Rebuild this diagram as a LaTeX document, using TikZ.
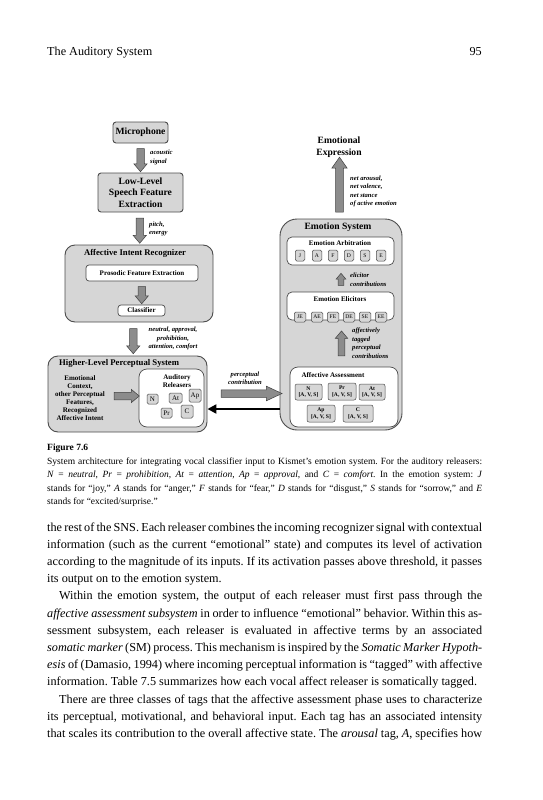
\documentclass[tikz,border=0pt]{standalone}
\usepackage{fontspec}
\setmainfont{Liberation Serif}
\usetikzlibrary{shapes.arrows,calc,arrows.meta}
\frenchspacing
\newcommand\dgTitle{\fontsize{9.6}{11.6}\selectfont\bfseries}
\newcommand\dgTitleS{\fontsize{8.7}{10.5}\selectfont\bfseries}
\newcommand\dgSub{\fontsize{7}{8}\selectfont\bfseries}
\newcommand\dgLbl{\fontsize{6.6}{8.4}\selectfont\bfseries\itshape}
\newcommand\dgTag{\fontsize{5.6}{6.6}\selectfont\bfseries}
\newcommand\bodyf{\fontsize{12.2}{17.2}\selectfont}
\newcommand\capf{\fontsize{9.5}{13.6}\selectfont}
\newcommand\jline[1]{\hbox to 435pt{#1}}
\newcommand\eline[1]{\hbox to 435pt{#1\hfil}}
\begin{document}
\begin{tikzpicture}[x=1pt,y=-1pt,
  bigbox/.style={draw=black!70, fill=black!16, line width=0.9pt, rounded corners=10pt, inner sep=0pt},
  midbox/.style={draw=black!70, fill=black!16, line width=0.9pt, rounded corners=3pt, inner sep=0pt, align=center, font=\dgTitle},
  wbox/.style={draw=black!70, fill=white, line width=0.7pt, rounded corners=3pt, inner sep=0pt, align=center, font=\dgSub},
  sbox/.style={draw=black!70, fill=black!16, line width=0.5pt, rounded corners=1.5pt, inner sep=0pt, align=center, font=\dgSub\mdseries},
  tbox/.style={draw=black!70, fill=black!16, line width=0.5pt, rounded corners=2pt, inner sep=0pt, align=center, font=\dgTag},
  barrow/.style={single arrow, draw=black!75, fill=black!45, line width=0.5pt, inner xsep=0pt, inner ysep=3.5pt, single arrow head extend=2.8pt, single arrow tip angle=80, anchor=center},
  lbl/.style={font=\dgLbl, inner sep=0pt},
  txt/.style={inner sep=0pt}]
\useasboundingbox (0,0) rectangle (542,800);

% header
\node[txt, anchor=base west] (hdr) at (47,56) {\bodyf The Auditory System};
\node[txt, anchor=base east] (pg) at (482,56) {\bodyf 95};

% ---------- left column ----------
\node[midbox, minimum width=55pt, minimum height=21pt] (mic) at (140.5,132.5) {Microphone};
\node[midbox, minimum width=85pt, minimum height=39pt] (low) at (140.5,192.5) {Low-Level\\Speech Feature\\Extraction};
\node[barrow, rotate=-90, minimum height=23pt] (a1) at ($(mic.south)!0.5!(low.north)$) {};
\node[lbl, align=left, anchor=west] (l1) at (150,157.5) {acoustic\\signal};

\node[bigbox, minimum width=148pt, minimum height=77pt] (air) at (139,283.5) {};
\node[txt, font=\dgTitleS] (airt) at (135,253.5) {Affective Intent Recognizer};
\node[wbox, minimum width=112pt, minimum height=16pt] (pfe) at (142,273) {Prosodic Feature Extraction};
\node[wbox, minimum width=47pt, minimum height=11pt] (cls) at (141.5,310.5) {Classifier};
\node[barrow, rotate=-90, minimum height=17pt] (a3) at ($(pfe.south)!0.5!(cls.north)$) {};
\node[barrow, rotate=-90, minimum height=25pt] (a2) at ($(low.south)!0.5!(air.north)$) {};
\node[lbl, align=left, anchor=west] (l2) at (149,229) {pitch,\\energy};

\node[bigbox, minimum width=159pt, minimum height=76pt] (hl) at (127.5,394) {};
\node[barrow, rotate=-90, minimum height=25pt] (a4) at ($(air.south)!0.5!(hl.north)$) {};
\node[lbl, align=center] (l3) at (173,338.5) {neutral, approval,\\prohibition,\\attention, comfort};
\node[txt, font=\dgTitleS, anchor=west] (hlt) at (59,363.5) {Higher-Level Perceptual System};
\node[txt, font=\dgSub, align=center] (ctx) at (80,398) {Emotional\\Context,\\other Perceptual\\Features,\\Recognized\\Affective Intent};
\node[wbox, rounded corners=8pt, minimum width=65pt, minimum height=58pt] (ar) at (171.5,398) {};
\node[txt, font=\dgSub, align=center] (art) at (177,381) {Auditory\\Releasers};
\node[barrow, minimum height=25pt] (a5) at (124.5,396) {};
\node[sbox, minimum width=11pt, minimum height=10pt] (rN) at (152.5,399) {N};
\node[sbox, minimum width=13pt, minimum height=10pt] (rAt) at (175.5,398) {At};
\node[sbox, minimum width=12pt, minimum height=13pt] (rAp) at (195,395.5) {Ap};
\node[sbox, minimum width=11pt, minimum height=10pt] (rPr) at (166.5,413) {Pr};
\node[sbox, minimum width=12pt, minimum height=13pt] (rC) at (187,411.5) {C};

% ---------- right column ----------
\node[txt, font=\dgTitle, align=center] (expr) at (339,147) {Emotional\\Expression};
\node[bigbox, rounded corners=17pt, minimum width=122pt, minimum height=211pt] (es) at (341,324.5) {};
\node[barrow, rotate=90, minimum height=55pt, inner ysep=3.7pt, single arrow head extend=3.8pt, single arrow tip angle=70] (a6) at (339.5,187.5) {};
\node[lbl, align=left, anchor=north west] (l4) at (350,175.5) {net arousal,\\net valence,\\net stance\\of active emotion};
\node[txt, font=\dgTitle] (est) at (338,227.5) {Emotion System};

\node[wbox, rounded corners=5pt, minimum width=107pt, minimum height=28pt] (ea) at (340.5,251) {};
\node[txt, font=\dgSub] (eat) at (340,243.5) {Emotion Arbitration};
\foreach \n/\x in {J/300,A/317,F/333,D/349,S/365,E/381}
  \node[sbox, font=\dgTag\mdseries, minimum width=9.5pt, minimum height=11pt] (m\n) at (\x,255.5) {\n};

\node[wbox, rounded corners=5pt, minimum width=107pt, minimum height=28pt] (ee) at (340.5,306) {};
\node[txt, font=\dgSub] (eet) at (340,299.5) {Emotion Elicitors};
\foreach \n/\x in {JE/300,AE/317,FE/333,DE/349,SE/365,EE/381}
  \node[sbox, font=\dgTag\mdseries, minimum width=11.5pt, minimum height=10pt] (m\n) at (\x,317) {\n};
\node[barrow, rotate=90, minimum height=12pt, inner ysep=2.6pt, single arrow head extend=2pt] (a7) at (341,281) {};
\node[lbl, align=left, anchor=north west] (l5) at (350,273) {elicitor\\contributions};

\node[wbox, rounded corners=8pt, minimum width=108pt, minimum height=60pt] (aa) at (344,397) {};
\node[txt, font=\dgSub] (aat) at (333,375.5) {Affective Assessment};
\node[barrow, rotate=90, minimum height=25pt, inner ysep=3.2pt] (a8) at (341.5,345.5) {};
\node[lbl, align=left, anchor=north west] (l6) at (352,328) {affectively\\tagged\\perceptual\\contributions};
\node[tbox, minimum width=27pt, minimum height=16pt] (tN) at (308.5,392) {N\\{}[A, V, S]};
\node[tbox, minimum width=28pt, minimum height=17pt] (tPr) at (342,391.5) {Pr\\{}[A, V, S]};
\node[tbox, minimum width=26pt, minimum height=16pt] (tAt) at (372,392) {At\\{}[A, V, S]};
\node[tbox, minimum width=28pt, minimum height=17pt] (tAp) at (321,413.5) {Ap\\{}[A, V, S]};
\node[tbox, minimum width=30pt, minimum height=17pt] (tC) at (358,413.5) {C\\{}[A, V, S]};

% between columns
\node[barrow, minimum height=61pt, inner ysep=3.5pt, single arrow head extend=3.5pt, single arrow tip angle=50] (a9) at (247.5,393.5) {};
\node[lbl, align=center] (l7) at (245,378) {perceptual\\contribution};
\coordinate (bk) at (es.west |- 0,409);
\draw[line width=2.6pt, -{Triangle[width=9pt,length=9pt]}] (bk) -- (hl.east |- bk) ;

% caption
\node[txt, anchor=base west] (figlab) at (47,450.5) {\capf\bfseries Figure 7.6};
\node[txt, anchor=base west] (cap1) at (47,464) {\capf\jline{System architecture for integrating vocal classifier input to Kismet’s emotion system. For the auditory releasers:}};
\node[txt, anchor=base west] (cap2) at (47,477.5) {\capf\jline{\textit{N} = \textit{neutral}, \textit{Pr} = \textit{prohibition}, \textit{At} = \textit{attention}, \textit{Ap} = \textit{approval}, and \textit{C} = \textit{comfort}. In the emotion system: \textit{J}}};
\node[txt, anchor=base west] (cap3) at (47,491) {\capf\jline{stands for “joy,” \textit{A} stands for “anger,” \textit{F} stands for “fear,” \textit{D} stands for “disgust,” \textit{S} stands for “sorrow,” and \textit{E}}};
\node[txt, anchor=base west] (cap4) at (47,504.5) {\capf\eline{stands for “excited/surprise.”}};

% body text
\node[txt, anchor=base west] (b1) at (47,531) {\bodyf\jline{the rest of the SNS. Each releaser combines the incoming recognizer signal with contextual}};
\node[txt, anchor=base west] (b2) at (47,548.2) {\bodyf\jline{information (such as the current “emotional” state) and computes its level of activation}};
\node[txt, anchor=base west] (b3) at (47,565.4) {\bodyf\jline{according to the magnitude of its inputs. If its activation passes above threshold, it passes}};
\node[txt, anchor=base west] (b4) at (47,582.6) {\bodyf\eline{its output on to the emotion system.}};
\node[txt, anchor=base west] (b5) at (47,599.8) {\bodyf\jline{\kern12pt Within the emotion system, the output of each releaser must first pass through the}};
\node[txt, anchor=base west] (b6) at (47,617) {\bodyf\jline{\textit{affective assessment subsystem} in order to influence “emotional” behavior. Within this as-}};
\node[txt, anchor=base west] (b7) at (47,634.2) {\bodyf\jline{sessment subsystem, each releaser is evaluated in affective terms by an associated}};
\node[txt, anchor=base west] (b8) at (47,651.4) {\bodyf\jline{\textit{somatic marker} (SM) process. This mechanism is inspired by the \textit{Somatic Marker Hypoth-}}};
\node[txt, anchor=base west] (b9) at (47,668.6) {\bodyf\jline{\textit{esis} of (Damasio, 1994) where incoming perceptual information is “tagged” with affective}};
\node[txt, anchor=base west] (b10) at (47,685.8) {\bodyf\eline{information. Table 7.5 summarizes how each vocal affect releaser is somatically tagged.}};
\node[txt, anchor=base west] (b11) at (47,703) {\bodyf\jline{\kern12pt There are three classes of tags that the affective assessment phase uses to characterize}};
\node[txt, anchor=base west] (b12) at (47,720.2) {\bodyf\jline{its perceptual, motivational, and behavioral input. Each tag has an associated intensity}};
\node[txt, anchor=base west] (b13) at (47,737.4) {\bodyf\jline{that scales its contribution to the overall affective state. The \textit{arousal} tag, \textit{A}, specifies how}};
\end{tikzpicture}
\end{document}
